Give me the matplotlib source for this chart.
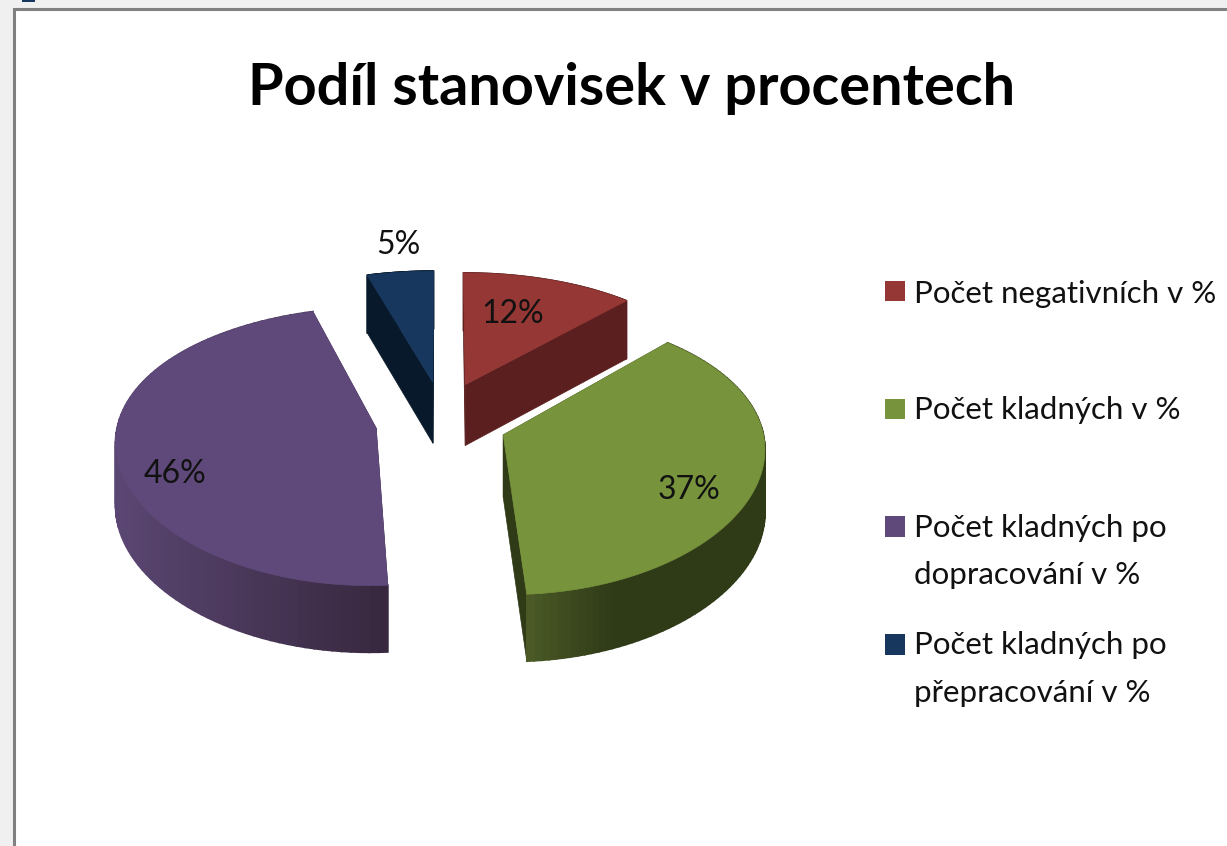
import numpy as np
import matplotlib
matplotlib.use('Agg')
import matplotlib.pyplot as plt
from matplotlib.patches import Polygon, Rectangle
from matplotlib.colors import to_rgb

plt.rcParams['font.family'] = ['Lato', 'DejaVu Sans']

title = "Podíl stanovisek v procentech"
values = [12, 37, 46.4, 4.6]
pct_labels = ["12%", "37%", "46%", "5%"]
legend_lines = [["Počet negativních v %"],
                ["Počet kladných v %"],
                ["Počet kladných po", "dopracování v %"],
                ["Počet kladných po", "přepracování v %"]]
top_colors = ["#953735", "#77933c", "#5f497a", "#17375e"]
cut_colors = ["#5a1f1e", "#2f3a17", "#3a2a48", "#07192a"]
wall_left = ["#5a1f1e", "#4d5c28", "#5a4672", "#07192a"]
wall_right = ["#5a1f1e", "#2f3a17", "#38283f", "#07192a"]
shade_range = [(0, 1), (525, 615), (120, 384), (0, 1)]

# screen placement of the fake 3d pie, all in pixels
cx, cy = 442, 421
rad_x, rad_y = 258, 135
depth = 62
persp_x = 0.085
persp_y = 0.13
explode_x = [0.25, 0.25, 0.258, 0.25]
explode_y = 0.30

label_pos = [(513, 323), (689, 499), (175, 483), (398, 254)]
legend_y = [(281, 301), (399, 419), (516, 537), (634, 655)]
legend_base = [[303], [419], [537, 584], [654, 702]]


def project(X, Y, z=0.0):
	fx = 1.0 / (1.0 + persp_x * Y)
	fy = 1.0 / (1.0 + persp_y * Y)
	return cx + rad_x * X * fx, cy - rad_y * Y * fy + depth * z * np.sqrt(fy)


def mix(a, b, t):
	a, b = np.array(to_rgb(a)), np.array(to_rgb(b))
	return tuple(a + (b - a) * t)


fig = plt.figure(figsize=(12.27, 8.46), dpi=100, facecolor='#f0f0f0')
ax = fig.add_axes([0, 0, 1, 1])
ax.set_xlim(0, 1227)
ax.set_ylim(846, 0)
ax.axis('off')

# window frame
ax.add_patch(Rectangle((14, 9), 1300, 900, fc='white', ec='#808080', lw=2.2))
ax.add_patch(Rectangle((22, -3), 13, 5, fc='#17375e', ec='none'))

ax.text(632, 105, title, fontsize=41.5, fontweight='bold', ha='center', va='baseline', color='black')

# angles run clockwise from the top of the pie
edges = np.cumsum([0] + values) / sum(values) * 2 * np.pi
order = [3, 0, 2, 1]  # back slices first

for i in order:
	a0, a1 = edges[i], edges[i + 1]
	mid = (a0 + a1) / 2
	ox, oy = explode_x[i] * np.sin(mid), explode_y * np.cos(mid)
	t = np.linspace(a0, a1, 90)
	xs = ox + np.sin(t)
	ys = oy + np.cos(t)

	# the two cut faces
	for k in (0, -1):
		corners = [project(ox, oy, 0), project(xs[k], ys[k], 0),
				   project(xs[k], ys[k], 1), project(ox, oy, 1)]
		ax.add_patch(Polygon(corners, fc=cut_colors[i], ec=cut_colors[i], lw=0.5))

	# rim, shaded from left to right on screen
	for j in range(len(t) - 1):
		corners = [project(xs[j], ys[j], 0), project(xs[j + 1], ys[j + 1], 0),
				   project(xs[j + 1], ys[j + 1], 1), project(xs[j], ys[j], 1)]
		x_l, x_r = shade_range[i]
		shade = min(1.0, max(0.0, (corners[0][0] - x_l) / (x_r - x_l)))
		col = mix(wall_left[i], wall_right[i], shade)
		ax.add_patch(Polygon(corners, fc=col, ec=col, lw=1.2))

	# top face
	pts = [project(ox, oy)] + [project(a, b) for a, b in zip(xs, ys)]
	ax.add_patch(Polygon(pts, fc=top_colors[i], ec=top_colors[i], lw=0.5))

for lab, (x, y) in zip(pct_labels, label_pos):
	ax.text(x, y, lab, fontsize=23, ha='center', va='baseline', color='#111111')

# legend
for i in range(len(values)):
	y0, y1 = legend_y[i]
	ax.add_patch(Rectangle((885, y0), 20, y1 - y0, fc=top_colors[i], ec='none'))
	for line, base in zip(legend_lines[i], legend_base[i]):
		ax.text(914, base, line, fontsize=22.5, ha='left', va='baseline', color='#111111')

fig.savefig('out.png', dpi=100, facecolor=fig.get_facecolor())
